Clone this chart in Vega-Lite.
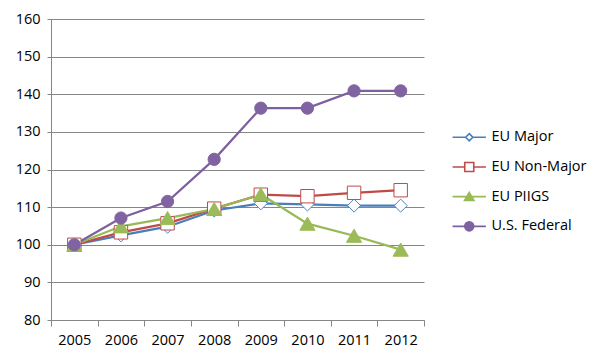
{
  "$schema": "https://vega.github.io/schema/vega-lite/v6.json",
  "width": 373,
  "height": 301,
  "autosize": {"type": "none"},
  "padding": {"left": 51, "top": 19, "right": 177, "bottom": 42},
  "background": "white",
  "config": {
    "view": {"stroke": null},
    "font": "Open Sans",
    "axis": {"labelFont": "Open Sans", "labelFontSize": 14.5, "labelColor": "#000000", "domainColor": "#868686", "tickColor": "#868686", "gridColor": "#868686", "title": null}
  },
  "data": {"values": [
    {"year": "2005", "series": "EU Major", "value": 100},
    {"year": "2006", "series": "EU Major", "value": 102.5},
    {"year": "2007", "series": "EU Major", "value": 104.8},
    {"year": "2008", "series": "EU Major", "value": 109.1},
    {"year": "2009", "series": "EU Major", "value": 111.0},
    {"year": "2010", "series": "EU Major", "value": 110.7},
    {"year": "2011", "series": "EU Major", "value": 110.4},
    {"year": "2012", "series": "EU Major", "value": 110.4},
    {"year": "2005", "series": "EU Non-Major", "value": 100},
    {"year": "2006", "series": "EU Non-Major", "value": 103.3},
    {"year": "2007", "series": "EU Non-Major", "value": 105.7},
    {"year": "2008", "series": "EU Non-Major", "value": 109.6},
    {"year": "2009", "series": "EU Non-Major", "value": 113.3},
    {"year": "2010", "series": "EU Non-Major", "value": 112.9},
    {"year": "2011", "series": "EU Non-Major", "value": 113.8},
    {"year": "2012", "series": "EU Non-Major", "value": 114.5},
    {"year": "2005", "series": "EU PIIGS", "value": 100},
    {"year": "2006", "series": "EU PIIGS", "value": 104.9},
    {"year": "2007", "series": "EU PIIGS", "value": 107.1},
    {"year": "2008", "series": "EU PIIGS", "value": 109.5},
    {"year": "2009", "series": "EU PIIGS", "value": 113.4},
    {"year": "2010", "series": "EU PIIGS", "value": 105.6},
    {"year": "2011", "series": "EU PIIGS", "value": 102.4},
    {"year": "2012", "series": "EU PIIGS", "value": 98.7},
    {"year": "2005", "series": "U.S. Federal", "value": 100},
    {"year": "2006", "series": "U.S. Federal", "value": 107.1},
    {"year": "2007", "series": "U.S. Federal", "value": 111.5},
    {"year": "2008", "series": "U.S. Federal", "value": 122.7},
    {"year": "2009", "series": "U.S. Federal", "value": 136.3},
    {"year": "2010", "series": "U.S. Federal", "value": 136.3},
    {"year": "2011", "series": "U.S. Federal", "value": 140.9},
    {"year": "2012", "series": "U.S. Federal", "value": 140.9}
  ]},
  "encoding": {
    "x": {"field": "year", "type": "ordinal", "scale": {"type": "band", "paddingInner": 0, "paddingOuter": 0},
      "axis": {"labelAngle": 0, "tickBand": "extent", "tickSize": 6, "labelPadding": 7, "grid": false}},
    "y": {"field": "value", "type": "quantitative", "scale": {"domain": [80, 160], "nice": false, "zero": false},
      "axis": {"values": [80, 90, 100, 110, 120, 130, 140, 150, 160], "tickSize": 4, "labelPadding": 7, "grid": true, "gridWidth": 1}}
  },
  "layer": [
    {
      "mark": {"type": "line", "strokeWidth": 2.25},
      "encoding": {
        "detail": {"field": "series"},
        "color": {"field": "series", "type": "nominal",
          "scale": {"domain": ["EU Major", "EU Non-Major", "EU PIIGS", "U.S. Federal"], "range": ["#4a7ebb", "#be4b48", "#98b954", "#7d60a0"]},
          "legend": {
            "title": null, "orient": "none", "legendX": 411, "legendY": 111, "padding": 0,
            "symbolSize": 81, "labelOffset": 15, "rowPadding": 13.7, "labelFontSize": 14.5, "labelFont": "Open Sans", "labelColor": "#000000",
            "symbolStrokeWidth": 1.6,
            "encode": {"symbols": {"update": {
              "shape": {"signal": "datum.value === 'EU Major' ? 'M-3.7,0H-0.8M0.8,0H3.7M0,-0.8L0.8,0L0,0.8L-0.8,0Z' : datum.value === 'EU Non-Major' ? 'M-3.7,0H-1M1,0H3.7M-1,-1H1V1H-1Z' : datum.value === 'EU PIIGS' ? 'M-3.7,0H3.7M0,-0.95L1.05,0.85H-1.05Z' : 'M-3.7,0H3.7M1,0A1,1,0,1,1,-1,0A1,1,0,1,1,1,0Z'"},
              "fill": {"signal": "datum.value === 'EU PIIGS' ? '#9bbb59' : datum.value === 'U.S. Federal' ? '#8064a2' : '#ffffff'"},
              "stroke": {"signal": "datum.value === 'EU Major' ? '#4a7ebb' : datum.value === 'EU Non-Major' ? '#be4b48' : datum.value === 'EU PIIGS' ? '#98b954' : '#7d60a0'"},
              "fillOpacity": {"value": 1},
              "strokeWidth": {"value": 1.6}
            }}}
          }}
      }
    },
    {
      "mark": {"type": "point", "strokeWidth": 1, "opacity": 1, "fillOpacity": 1},
      "encoding": {
        "shape": {"condition": [
          {"test": "datum.series === 'EU Major'", "value": "diamond"},
          {"test": "datum.series === 'EU Non-Major'", "value": "square"},
          {"test": "datum.series === 'EU PIIGS'", "value": "triangle-up"}
        ], "value": "circle"},
        "size": {"condition": [
          {"test": "datum.series === 'EU Major'", "value": 170},
          {"test": "datum.series === 'EU Non-Major'", "value": 180},
          {"test": "datum.series === 'EU PIIGS'", "value": 230}
        ], "value": 150},
        "stroke": {"condition": [
          {"test": "datum.series === 'EU Major'", "value": "#4f81bd"},
          {"test": "datum.series === 'EU Non-Major'", "value": "#be4b48"},
          {"test": "datum.series === 'EU PIIGS'", "value": "#9bbb59"}
        ], "value": "#8064a2"},
        "fill": {"condition": [
          {"test": "datum.series === 'EU Major'", "value": "#ffffff"},
          {"test": "datum.series === 'EU Non-Major'", "value": "#ffffff"},
          {"test": "datum.series === 'EU PIIGS'", "value": "#9bbb59"}
        ], "value": "#8064a2"}
      }
    }
  ]
}
